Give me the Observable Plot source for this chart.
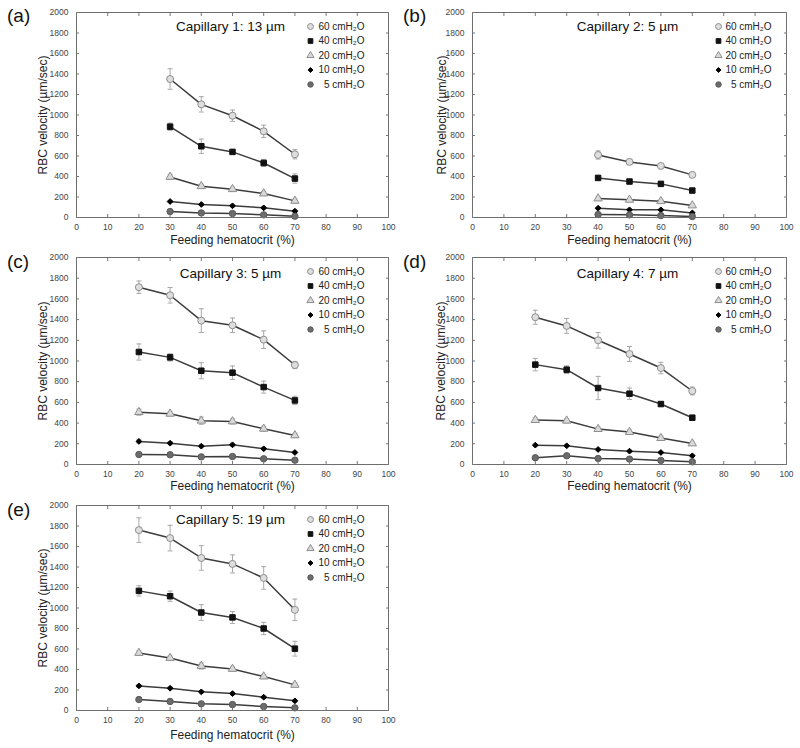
<!DOCTYPE html>
<html><head><meta charset="utf-8">
<script src="https://cdn.jsdelivr.net/npm/d3@7"></script>
<script src="https://cdn.jsdelivr.net/npm/@observablehq/plot@0.6"></script>
<style>
body{margin:0;background:#fff;font-family:"Liberation Sans",Arial,sans-serif;}
#root{position:relative;width:800px;height:748px;overflow:hidden;}
.panel{position:absolute;}
.plabel{position:absolute;font-size:19px;line-height:20px;color:#111;font-family:"Liberation Sans",Arial,sans-serif;}
</style></head><body><div id="root"></div>
<script>
// ---- data ----
const panelLetters = ["(a)","(b)","(c)","(d)","(e)"];
const capTitles = ["Capillary 1: 13 µm","Capillary 2: 5 µm","Capillary 3: 5 µm","Capillary 4: 7 µm","Capillary 5: 19 µm"];
const pressureLabels = ["60 cmH₂O","40 cmH₂O","20 cmH₂O","10 cmH₂O","5 cmH₂O"];
const xTicks = [0,10,20,30,40,50,60,70,80,90,100];
const yTicks = [0,200,400,600,800,1000,1200,1400,1600,1800,2000];
const xLabel = "Feeding hematocrit (%)";
const yLabel = "RBC velocity (µm/sec)";

// panel (a)
const hctA = [30,40,50,60,70];
const velA = [[1351,1104,993,841,617],[886,695,640,532,380],[396,305,276,234,162],[156,127,114,94,62],[58,45,39,26,13]];
const errA = [[100,75,55,60,45],[35,70,20,35,45],[25,20,20,20,20],[10,10,10,10,10],[10,10,10,8,8]];
// panel (b)
const hctB = [40,50,60,70];
const velB = [[610,542,503,416],[386,351,328,263],[185,172,159,117],[91,75,75,45],[29,26,19,10]];
const errB = [[40,25,15,20],[25,15,15,15],[15,12,12,15],[8,8,8,8],[5,5,5,5]];
// panel (c)
const hctC = [20,30,40,50,60,70];
const velC = [[1713,1635,1390,1345,1206,961],[1087,1035,906,887,748,619],[506,490,423,416,345,281],[223,206,177,190,152,116],[97,94,74,77,55,42]];
const errC = [[60,75,115,70,85,35],[78,35,78,65,58,40],[30,20,35,25,25,20],[15,15,15,15,12,12],[8,8,8,8,8,8]];
// panel (d)
const hctD = [20,30,40,50,60,70];
const velD = [[1423,1339,1200,1068,932,710],[965,916,739,684,584,452],[429,423,342,313,255,203],[187,181,145,129,116,84],[65,84,58,52,39,26]];
const errD = [[68,72,75,72,55,38],[60,37,112,55,22,25],[20,20,20,20,20,15],[10,10,10,10,10,10],[8,8,8,8,8,8]];
// panel (e)
const hctE = [20,30,40,50,60,70];
const velE = [[1760,1682,1488,1430,1293,982],[1167,1115,956,908,800,603],[561,512,434,405,331,250],[240,217,182,165,130,94],[107,88,65,58,39,26]];
const errE = [[120,125,120,88,110,105],[50,50,77,58,60,72],[20,20,30,20,20,20],[12,12,12,12,12,10],[8,8,8,8,8,8]];

// ---- styles / layout ----
const seriesStyle = [
  {symbol:"circle",   fill:"#dedede", stroke:"#8e8e8e", r:3.5},
  {symbol:"square",   fill:"#111",    stroke:"#111",    r:3.1},
  {symbol:"triangle", fill:"#d9d9d9", stroke:"#8e8e8e", r:3.1},
  {symbol:"diamond2", fill:"#000",    stroke:"#000",    r:2.6},
  {symbol:"circle",   fill:"#6b6b6b", stroke:"#5a5a5a", r:3.2}
];
const capSymbol = {draw(ctx, size){ const w = Math.sqrt(size/Math.PI); ctx.moveTo(-w,0); ctx.lineTo(w,0); }};

const panels = [
  {hct:hctA, vel:velA, err:errA, left:0,   ml:76, mr:12, ft:12,  fb:217, legX:78, legT:24, ylx:-33, ttl:14, xld:23},
  {hct:hctB, vel:velB, err:errB, left:400, ml:72, mr:14, ft:12,  fb:217, legX:68, legT:15, ylx:-30, ttl:14, xld:23},
  {hct:hctC, vel:velC, err:errC, left:0,   ml:76, mr:12, ft:257, fb:464, legX:78, legT:24, ylx:-33, ttl:16, xld:22},
  {hct:hctD, vel:velD, err:errD, left:400, ml:72, mr:14, ft:257, fb:464, legX:68, legT:15, ylx:-31, ttl:16, xld:22},
  {hct:hctE, vel:velE, err:errE, left:0,   ml:76, mr:12, ft:505, fb:710, legX:78, legT:24, ylx:-33, ttl:14, xld:25}
];
const letterPos = [[7,6],[403,6],[7,252],[403,252],[7,500]];

const root = document.getElementById("root");
const SVG_H = 250;
const plain = d => String(d);

panels.forEach((p, pi) => {
  const marginTop = 12;
  const marginBottom = SVG_H - marginTop - (p.fb - p.ft);
  const marks = [];
  const rowsBySeries = p.vel.map((vs, si) => p.hct.map((h, j) => ({h, v: vs[j], e: p.err[si][j]})));

  // error bars
  rowsBySeries.forEach(rows => {
    marks.push(Plot.ruleX(rows, {x:"h", y1: d => d.v - d.e, y2: d => d.v + d.e, stroke:"#a8a8a8", strokeWidth:1}));
    marks.push(Plot.dot(rows, {x:"h", y: d => d.v + d.e, symbol: capSymbol, r:2.5, fill:"none", stroke:"#a8a8a8", strokeWidth:1}));
    marks.push(Plot.dot(rows, {x:"h", y: d => d.v - d.e, symbol: capSymbol, r:2.5, fill:"none", stroke:"#a8a8a8", strokeWidth:1}));
  });
  // lines
  rowsBySeries.forEach(rows => {
    marks.push(Plot.line(rows, {x:"h", y:"v", stroke:"#3c3c3c", strokeWidth:1.5}));
  });
  // markers
  rowsBySeries.forEach((rows, si) => {
    const s = seriesStyle[si];
    marks.push(Plot.dot(rows, {x:"h", y:"v", symbol:s.symbol, fill:s.fill, stroke:s.stroke, r:s.r, strokeWidth:1}));
  });

  // frame & axes
  marks.push(Plot.frame({stroke:"#6e6e6e", strokeWidth:1}));
  marks.push(Plot.axisX(xTicks, {anchor:"bottom", tickSize:0, tickPadding:6, tickFormat:plain, label:null, fill:"#444"}));
  marks.push(Plot.axisX(xTicks, {anchor:"bottom", tickSize:-3, tickFormat:() => "", label:null, stroke:"#777"}));
  marks.push(Plot.axisX(xTicks, {anchor:"top", tickSize:-3, tickFormat:() => "", label:null, stroke:"#777"}));
  marks.push(Plot.axisY(yTicks, {anchor:"left", tickSize:0, tickPadding:8, tickFormat:plain, label:null, fill:"#444"}));
  marks.push(Plot.axisY(yTicks, {anchor:"left", tickSize:-3, tickFormat:() => "", label:null, stroke:"#777"}));
  marks.push(Plot.axisY(yTicks, {anchor:"right", tickSize:-3, tickFormat:() => "", label:null, stroke:"#777"}));

  // axis titles
  marks.push(Plot.text([xLabel], {frameAnchor:"bottom", lineAnchor:"middle", textAnchor:"middle", dy:p.xld, fontSize:12, fill:"#222"}));
  marks.push(Plot.text([yLabel], {frameAnchor:"left", rotate:-90, textAnchor:"middle", lineAnchor:"middle", dx:p.ylx, fontSize:12, fill:"#222"}));

  // panel title
  marks.push(Plot.text([capTitles[pi]], {frameAnchor:"top", lineAnchor:"middle", dy:p.ttl, dx:-2, fontSize:13.5, fill:"#111"}));

  // legend
  pressureLabels.forEach((lab, si) => {
    const s = seriesStyle[si];
    marks.push(Plot.dot([lab], {frameAnchor:"top-right", dx:-p.legX, dy:14 + si*14.5, symbol:s.symbol, fill:s.fill, stroke:s.stroke, r:s.r*0.85, strokeWidth:1}));
    marks.push(Plot.text([lab], {frameAnchor:"top-right", dx:-p.legT, dy:14 + si*14.5, textAnchor:"end", lineAnchor:"middle", fontSize:10, fill:"#222"}));
  });

  const chart = Plot.plot({
    width: 400,
    height: SVG_H,
    marginLeft: p.ml,
    marginRight: p.mr,
    marginTop,
    marginBottom,
    style: {fontFamily:"'Liberation Sans', Arial, sans-serif", fontSize:"8.5px", background:"transparent", overflow:"visible"},
    x: {domain:[0,100]},
    y: {domain:[0,2000]},
    marks
  });
  chart.classList.add("panel");
  chart.style.left = p.left + "px";
  chart.style.top = (p.ft - marginTop) + "px";
  root.appendChild(chart);

  const lab = document.createElement("div");
  lab.className = "plabel";
  lab.textContent = panelLetters[pi];
  lab.style.left = letterPos[pi][0] + "px";
  lab.style.top = letterPos[pi][1] + "px";
  root.appendChild(lab);
});
</script>
</body></html>
